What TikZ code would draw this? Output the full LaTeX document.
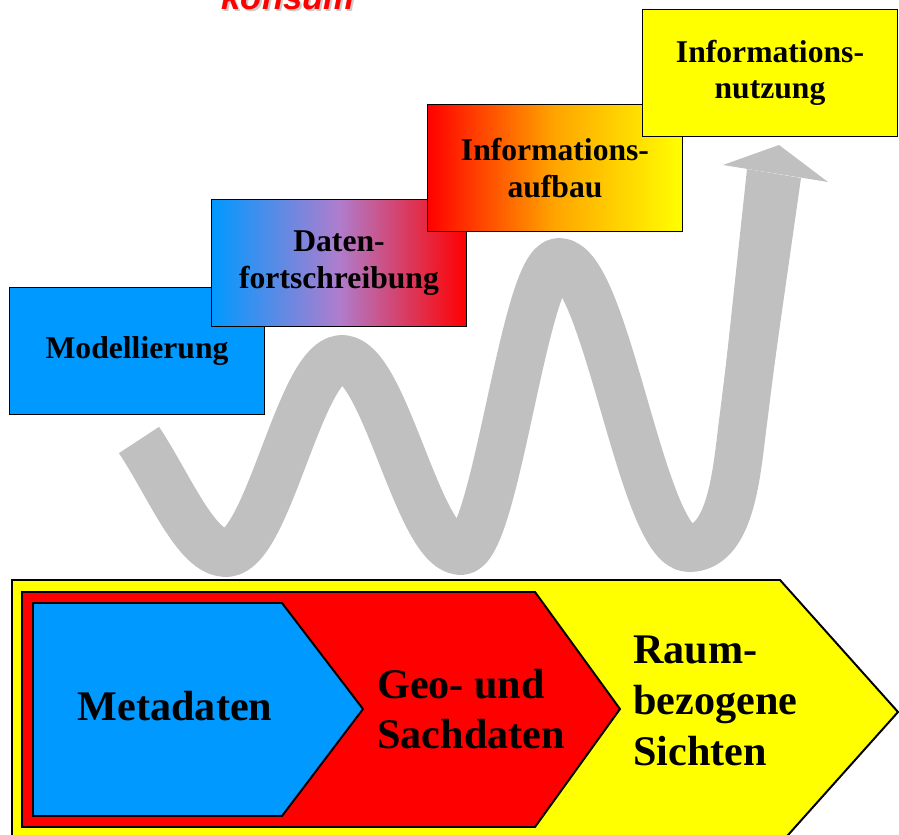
\documentclass[tikz,border=0pt]{standalone}
\usepackage{fontspec}
\setmainfont{Liberation Serif}
\newfontfamily\konsumfont{Liberation Sans}
\usetikzlibrary{positioning}

\definecolor{mblue}{RGB}{0,153,255}
\definecolor{mred}{RGB}{255,0,0}
\definecolor{myellow}{RGB}{255,255,0}
\definecolor{morange}{RGB}{255,165,0}
\definecolor{mviolet}{RGB}{175,125,205}
\definecolor{wavegray}{RGB}{192,192,192}

\begin{document}
\begin{tikzpicture}[x=0.025cm, y=-0.025cm,
  stepbox/.style={draw, line width=1.1pt, minimum width=6.375cm,
                  minimum height=3.175cm, align=center, inner sep=0pt,
                  font=\fontsize{22.5}{26}\selectfont\bfseries},
  layer/.style={draw, line width=1.4pt},
  bigtxt/.style={inner sep=0pt, align=left,
                 font=\fontsize{30}{36}\selectfont\bfseries},
  wave/.style={draw=wavegray, line width=1.2cm, line join=round},
]
  \useasboundingbox (0,0) rectangle (899,834);

  % Wavy arrow
  \draw[wave] (139,440) .. controls (169,485) and (196,553) .. (226,553)
    .. controls (268,553) and (300,359) .. (342,359)
    .. controls (385,359) and (418,551) .. (461,551)
    .. controls (496,551) and (524,262) .. (559,262)
    .. controls (606,262) and (642,548) .. (689,548)
    .. controls (729,548) and (736,480) .. (742,430)
    -- (771,200);
  \fill[wavegray] (719,430) -- (765,430) -- (801,178) -- (747,169) -- cycle;
  \fill[wavegray] (723,165) -- (779,145) -- (828,182) -- cycle;

  % Steps
  \node[stepbox, fill=mblue] (mod) at (137,351) {Modellierung};
  \node[stepbox, left color=mblue, right color=mred, middle color=mviolet]
    (fort) at (339,263) {Daten-\\fortschreibung};
  \node[stepbox, left color=mred, right color=myellow, middle color=morange]
    (aufbau) at (555,168) {Informations-\\aufbau};
  \node[stepbox, fill=myellow] (nutzung) at (770,73)
    {Informations-\\nutzung};

  % Data layers
  \draw[layer, fill=myellow] (12,580) -- (780,580) -- (898,712)
    -- (780,844) -- (12,844) -- cycle;
  \draw[layer, fill=mred] (22,592) -- (535,592) -- (620,709)
    -- (535,827) -- (22,827) -- cycle;
  \draw[layer, fill=mblue] (33,603) -- (282,603) -- (363,709)
    -- (282,816) -- (33,816) -- cycle;

  \node[bigtxt, anchor=base] (meta) at (175,720) {Metadaten};
  \node[bigtxt, anchor=west] (geo) at (377,709) {Geo- und\\Sachdaten};
  \node[bigtxt, anchor=west] (raum) at (633,701)
    {Raum-\\bezogene\\Sichten};

  % Title (cut off)
  \node[font=\konsumfont\fontsize{24.6}{28}\selectfont\bfseries\itshape,
        text=gray!40, anchor=base] at (290,12) {konsum};
  \node[font=\konsumfont\fontsize{24.6}{28}\selectfont\bfseries\itshape,
        text=mred, anchor=base] (konsum) at (288,10) {konsum};
\end{tikzpicture}
\end{document}
